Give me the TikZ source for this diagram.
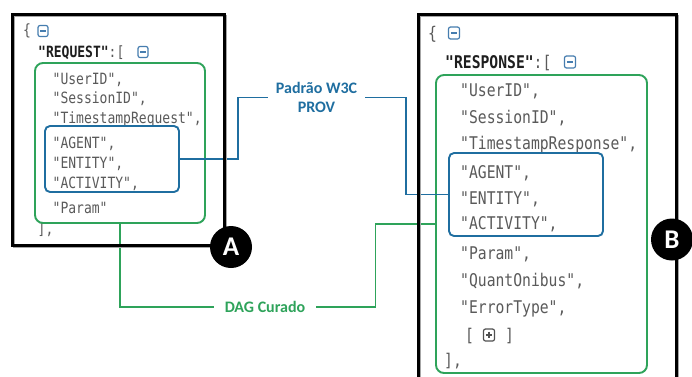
\documentclass[tikz,border=0pt]{standalone}
\usepackage{fontspec}
\setmainfont{Carlito}
\newfontfamily\codefont[FakeStretch=0.84]{DejaVu Sans Mono}
\usetikzlibrary{calc}
\definecolor{provblue}{RGB}{31,110,160}
\definecolor{daggreen}{RGB}{46,163,90}
\definecolor{codegray}{RGB}{90,90,90}
\definecolor{keydark}{RGB}{30,30,30}
\definecolor{iconblue}{RGB}{70,125,175}
\definecolor{icongray}{RGB}{80,80,80}

\begin{document}
\begin{tikzpicture}[x=1pt,y=-1pt,
  frame/.style={draw=black,line width=3pt,inner sep=0pt},
  frameshadow/.style={draw=black!35,line width=2pt,inner sep=0pt},
  grp/.style={draw=daggreen,line width=1.9pt,rounded corners=8pt,inner sep=0pt},
  provbox/.style={draw=provblue,line width=1.9pt,rounded corners=5pt,inner sep=0pt},
  lcode/.style={anchor=base west,inner sep=0pt,text=codegray,font=\codefont\fontsize{15.5}{15.5}\selectfont},
  rcode/.style={anchor=base west,inner sep=0pt,text=codegray,font=\codefont\fontsize{17.5}{17.5}\selectfont},
  icon/.style={draw=#1,line width=1.2pt,rounded corners=2pt,inner sep=0pt},
  minusicon/.style={icon=iconblue,minimum width=#1,minimum height=#1+1pt,
    path picture={\draw[iconblue,line width=1.2pt]
      ($(path picture bounding box.west)+(2.4pt,0)$) -- ($(path picture bounding box.east)+(-2.4pt,0)$);}},
  plusicon/.style={icon=icongray,minimum width=#1,minimum height=#1+1pt,
    path picture={\draw[icongray,line width=1.2pt]
      ($(path picture bounding box.west)+(2.4pt,0)$) -- ($(path picture bounding box.east)+(-2.4pt,0)$)
      ($(path picture bounding box.north)+(0,-2.6pt)$) -- ($(path picture bounding box.south)+(0,2.6pt)$);}},
  tag/.style={font=\bfseries\fontsize{16}{18.5}\selectfont,align=center,inner ysep=0pt},
  badge/.style={circle,fill=black,minimum size=42pt,inner sep=0pt,text=white,
    font=\bfseries\fontsize{27}{27}\selectfont},
  link/.style={line width=1.9pt}
]
\clip (0,0) rectangle (692,376);
\fill[white] (0,0) rectangle (692,376);

% request listing
\node[lcode] (lob) at (23,35) {\{};
\node[minusicon=10pt] (lmi1) at (43,31) {};
\node[lcode] (lkey) at (38,57) {\textcolor{keydark}{\bfseries"REQUEST"}:[};
\node[minusicon=10pt] (lmi2) at (143,52) {};
\node[lcode] (l1) at (52.5,84) {"UserID",};
\node[lcode] (l2) at (52.5,103.5) {"SessionID",};
\node[lcode] (l3) at (52.5,123) {"TimestampRequest",};
\node[lcode] (l4) at (52.5,148) {"AGENT",};
\node[lcode] (l5) at (52.5,168) {"ENTITY",};
\node[lcode] (l6) at (52.5,188) {"ACTIVITY",};
\node[lcode] (l7) at (52.5,213) {"Param"};
\node[lcode] (l8) at (37.5,234) {],};

% response listing
\node[rcode] (rob) at (428,39) {\{};
\node[minusicon=11pt] (rmi1) at (454,33) {};
\node[rcode] (rkey) at (445,68) {\textcolor{keydark}{\bfseries"RESPONSE"}:[};
\node[minusicon=11pt] (rmi2) at (570,62) {};
\node[rcode] (r1) at (460,96.5) {"UserID",};
\node[rcode] (r2) at (460,123) {"SessionID",};
\node[rcode] (r3) at (460,149) {"TimestampResponse",};
\node[rcode] (r4) at (460,178) {"AGENT",};
\node[rcode] (r5) at (460,204) {"ENTITY",};
\node[rcode] (r6) at (460,229) {"ACTIVITY",};
\node[rcode] (r7) at (460,259) {"Param",};
\node[rcode] (r8) at (460,286) {"QuantOnibus",};
\node[rcode] (r9) at (460,313) {"ErrorType",};
\node[rcode] (r10a) at (465,341) {[};
\node[plusicon=11pt] (rpi) at (489,335) {};
\node[rcode] (r10b) at (505,341) {]};
\node[rcode] (r11) at (444,366) {],};

% grouping boxes
\node[grp,minimum width=170pt,minimum height=160pt] (lgreen) at (120,143) {};
\node[provbox,minimum width=134pt,minimum height=66pt] (lblue) at (112,159) {};
\node[grp,minimum width=211pt,minimum height=298pt] (rgreen) at (541.5,224) {};
\node[provbox,minimum width=154pt,minimum height=83pt] (rblue) at (526,194.5) {};

% connector labels
\node[tag,text=provblue,inner xsep=8pt] (w3c) at (316.5,97.5) {Padrão W3C\\PROV};
\node[tag,text=daggreen,inner xsep=11pt] (dag) at (265,307) {DAG Curado};

% connectors
\draw[link,provblue] (lblue.east) -- ++(58,0) |- (w3c.west);
\draw[link,provblue] (w3c.east) -- ++(41,0) |- (rblue.west);
\draw[link,daggreen] (lgreen.south) |- (dag.west);
\draw[link,daggreen] (dag.east) -- ++(59,0) |- (rgreen.west);

% outer frames with a soft edge below and right
\node[frameshadow,minimum width=212pt,minimum height=231pt] (lshadow) at (119.5,131) {};
\node[frame,minimum width=212pt,minimum height=231pt] (lframe) at (118,129.5) {};
\node[frameshadow,minimum width=258pt,minimum height=390pt] (rshadow) at (548.5,210.5) {};
\node[frame,minimum width=258pt,minimum height=390pt] (rframe) at (547,209) {};

% badges
\node[badge] (ba) at (231,247) {A};
\node[badge] (bb) at (672,239.5) {B};
\end{tikzpicture}
\end{document}
